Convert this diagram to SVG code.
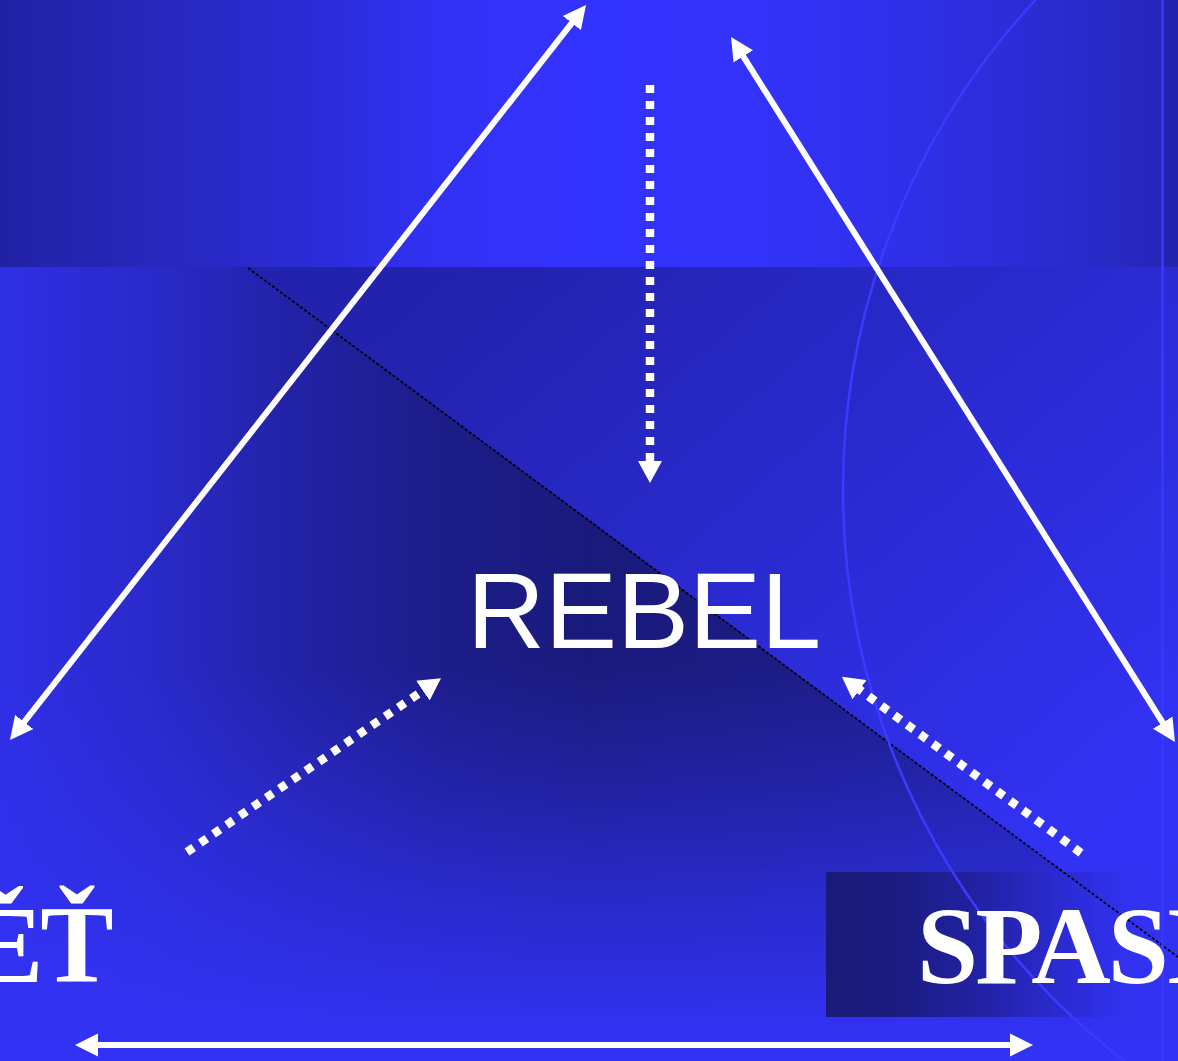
<svg xmlns="http://www.w3.org/2000/svg" width="1178" height="1061" viewBox="0 0 1178 1061">
  <defs>
    <linearGradient id="gTop" gradientUnits="userSpaceOnUse" x1="0" y1="0" x2="1178" y2="0">
      <stop offset="0" stop-color="#2121a6"/>
      <stop offset="0.1" stop-color="#2626b6"/>
      <stop offset="0.25" stop-color="#2b2bd4"/>
      <stop offset="0.37" stop-color="#3131f4"/>
      <stop offset="0.5" stop-color="#3333ff"/>
      <stop offset="0.62" stop-color="#3333fc"/>
      <stop offset="0.75" stop-color="#3030ec"/>
      <stop offset="0.88" stop-color="#2c2cd4"/>
      <stop offset="0.985" stop-color="#2626ba"/>
      <stop offset="1" stop-color="#2323ae"/>
    </linearGradient>
    <linearGradient id="gLow" gradientUnits="userSpaceOnUse" x1="0" y1="0" x2="1178" y2="0">
      <stop offset="0" stop-color="#2f2fe6"/>
      <stop offset="0.12" stop-color="#2a2acc"/>
      <stop offset="0.25" stop-color="#2222a6"/>
      <stop offset="0.38" stop-color="#1c1c88"/>
      <stop offset="0.5" stop-color="#1a1a7c"/>
      <stop offset="0.7" stop-color="#1c1c86"/>
      <stop offset="1" stop-color="#2222a6"/>
    </linearGradient>
    <linearGradient id="gFade" gradientUnits="userSpaceOnUse" x1="0" y1="267" x2="0" y2="1061">
      <stop offset="0" stop-color="#3232f4" stop-opacity="0"/>
      <stop offset="0.5" stop-color="#3232f4" stop-opacity="0"/>
      <stop offset="0.65" stop-color="#3232f4" stop-opacity="0.3"/>
      <stop offset="0.8" stop-color="#3232f4" stop-opacity="0.65"/>
      <stop offset="0.97" stop-color="#3232f4" stop-opacity="1"/>
    </linearGradient>
    <linearGradient id="gTri" gradientUnits="userSpaceOnUse" x1="450" y1="267" x2="1000" y2="900">
      <stop offset="0" stop-color="#2222ac"/>
      <stop offset="1" stop-color="#3232f4"/>
    </linearGradient>
    <linearGradient id="gBox" gradientUnits="userSpaceOnUse" x1="826" y1="0" x2="1178" y2="0">
      <stop offset="0" stop-color="#1a1a78"/>
      <stop offset="0.2" stop-color="#1b1b80"/>
      <stop offset="0.45" stop-color="#2222a6"/>
      <stop offset="0.7" stop-color="#2c2cd8"/>
      <stop offset="0.85" stop-color="#3131f0"/>
      <stop offset="1" stop-color="#3232f4"/>
    </linearGradient>
    <marker id="headSolid" markerUnits="userSpaceOnUse" viewBox="0 -12 23 24" refX="3" refY="0" markerWidth="23" markerHeight="24" orient="auto-start-reverse">
      <path d="M0,-11.5 L23,0 L0,11.5 z" fill="#ffffff"/>
    </marker>
    <marker id="headDot" markerUnits="userSpaceOnUse" viewBox="0 -12 22 24" refX="2" refY="0" markerWidth="22" markerHeight="24" orient="auto">
      <path d="M0,-12 L22,0 L0,12 z" fill="#ffffff"/>
    </marker>
  </defs>
  <style>
    .solid { stroke: #ffffff; stroke-width: 6; fill: none; }
    .dotted { stroke: #ffffff; stroke-width: 8.5; fill: none; stroke-dasharray: 8 8; }
    .serif { font-family: "Liberation Serif", "Times New Roman", serif; font-weight: bold; font-size: 110px; letter-spacing: -3px; fill: #ffffff; }
    .sans { font-family: "Liberation Sans", Arial, sans-serif; font-size: 108px; fill: #ffffff; }
  </style>

  <g id="background">
    <rect x="0" y="0" width="1178" height="267" fill="url(#gTop)"/>
    <rect x="0" y="267" width="1178" height="794" fill="url(#gLow)"/>
    <rect x="0" y="267" width="1178" height="794" fill="url(#gFade)"/>
    <polygon points="248,267 1178,267 1178,957" fill="url(#gTri)"/>
    <rect x="826" y="872" width="352" height="145" fill="url(#gBox)"/>
    <line x1="248" y1="268" x2="1178" y2="957" stroke="#000000" stroke-width="1.7" stroke-dasharray="3 2"/>
    <circle cx="1563" cy="490" r="720" fill="none" stroke="#3b3bff" stroke-width="2.5"/>
    <rect x="1161" y="0" width="3" height="1061" fill="#3636ff"/>
    <rect x="1164" y="0" width="14" height="267" fill="#2323ae"/>
  </g>

  <g id="connectors">
    <line class="solid" x1="22.3" y1="724.3" x2="573.7" y2="20.7" marker-start="url(#headSolid)" marker-end="url(#headSolid)"/>
    <line class="solid" x1="741.7" y1="53.9" x2="1164.3" y2="725.1" marker-start="url(#headSolid)" marker-end="url(#headSolid)"/>
    <line class="solid" x1="95" y1="1045" x2="1013" y2="1045" stroke-width="7" marker-start="url(#headSolid)" marker-end="url(#headSolid)"/>
    <line class="dotted" x1="650" y1="85" x2="650" y2="463" marker-end="url(#headDot)"/>
    <line class="dotted" x1="187" y1="852" x2="424.5" y2="689.5" marker-end="url(#headDot)"/>
    <line class="dotted" x1="1081" y1="853" x2="858" y2="688.5" marker-end="url(#headDot)"/>
  </g>

  <g id="node-rebel">
    <text class="sans" x="467" y="648">REBEL</text>
  </g>
  <g id="node-left">
    <text class="serif" x="-30" y="982">ĚŤ</text>
  </g>
  <g id="node-spasi">
    <text class="serif" x="917" y="983">SPASI</text>
  </g>
</svg>
